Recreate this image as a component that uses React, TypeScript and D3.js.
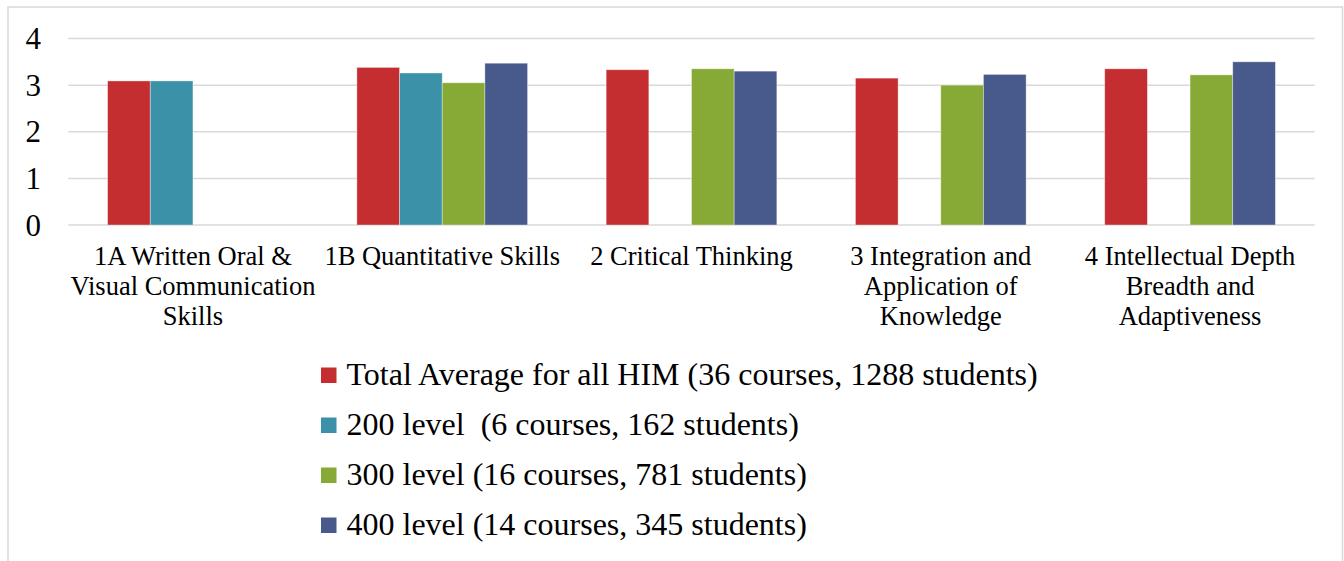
import React from 'react';
import * as d3 from 'd3';

const categories = [
  '1A Written Oral & Visual Communication Skills',
  '1B Quantitative Skills',
  '2 Critical Thinking',
  '3 Integration and Application of Knowledge',
  '4 Intellectual Depth Breadth and Adaptiveness',
];

const seriesNames = [
  'Total Average for all HIM (36 courses, 1288 students)',
  '200 level  (6 courses, 162 students)',
  '300 level (16 courses, 781 students)',
  '400 level (14 courses, 345 students)',
];

const totalAvg = [3.09, 3.38, 3.33, 3.15, 3.35];
const level200 = [3.09, 3.26, null, null, null];
const level300 = [null, 3.05, 3.35, 3.0, 3.22];
const level400 = [null, 3.47, 3.3, 3.23, 3.5];

const yTicks = [0, 1, 2, 3, 4];

const colors = ['#c42e30', '#3a91a8', '#86aa35', '#485a8c'];

const W = 1344;
const H = 561;
const FONT = "'Liberation Serif', 'Times New Roman', serif";
const labelSize = 26.5;

// wrap a category label into lines that fit the band width
const wrap = (text: string, maxW: number) => {
  const ctx = document.createElement('canvas').getContext('2d')!;
  ctx.font = `${labelSize}px 'Liberation Serif'`;
  const words = text.split(' ');
  const lines: string[] = [];
  let cur = '';
  words.forEach((w) => {
    const test = cur ? cur + ' ' + w : w;
    if (cur && ctx.measureText(test).width > maxW) {
      lines.push(cur);
      cur = w;
    } else {
      cur = test;
    }
  });
  if (cur) lines.push(cur);
  return lines;
};

const App = () => {
  const series = [totalAvg, level200, level300, level400];

  const x0 = d3.scaleBand<string>().domain(categories).range([68.3, 1314.7]).padding(0);
  const groupPad = 39.3;
  const x1 = d3
    .scaleBand<number>()
    .domain(d3.range(series.length))
    .range([groupPad, x0.bandwidth() - groupPad])
    .padding(0);
  const y = d3.scaleLinear().domain([0, 4]).range([225, 38.5]);

  return (
    <div style={{ position: 'fixed', left: 0, top: 0 }}>
      <svg width={W} height={H} style={{ display: 'block', background: '#fff' }}>
        <rect x={8} y={7} width={1334.5} height={620} fill="#fff" stroke="#d9d9d9" strokeWidth={1.5} />

        {yTicks.map((t) => (
          <g key={t}>
            <line x1={68.3} x2={1314.7} y1={y(t)} y2={y(t)} stroke="#d9d9d9" strokeWidth={1.5} />
            <text
              x={41}
              y={y(t)}
              textAnchor="end"
              dominantBaseline="central"
              fontFamily={FONT}
              fontSize={31}
              fill="#000"
            >
              {t}
            </text>
          </g>
        ))}

        {categories.map((c, ci) => (
          <g key={c} transform={`translate(${x0(c)},0)`}>
            {series.map((s, si) =>
              s[ci] == null ? null : (
                <rect
                  key={si}
                  x={x1(si)}
                  y={y(s[ci] as number)}
                  width={x1.bandwidth()}
                  height={y(0) - y(s[ci] as number)}
                  fill={colors[si]}
                  stroke="rgba(255,255,255,0.45)"
                  strokeWidth={0.8}
                />
              )
            )}
            {wrap(c, x0.bandwidth()).map((line, li) => (
              <text
                key={li}
                x={x0.bandwidth() / 2}
                y={265 + li * 30}
                textAnchor="middle"
                fontFamily={FONT}
                fontSize={labelSize}
                fill="#000"
              >
                {line}
              </text>
            ))}
          </g>
        ))}

        {seriesNames.map((name, i) => (
          <g key={name} transform={`translate(321,${385 + i * 50})`}>
            <rect x={0} y={-17.5} width={15.5} height={15.5} fill={colors[i]} />
            <text x={25.5} y={0} fontFamily={FONT} fontSize={32} fill="#000" style={{ whiteSpace: 'pre' }}>
              {name}
            </text>
          </g>
        ))}
      </svg>
    </div>
  );
};

export default App;
